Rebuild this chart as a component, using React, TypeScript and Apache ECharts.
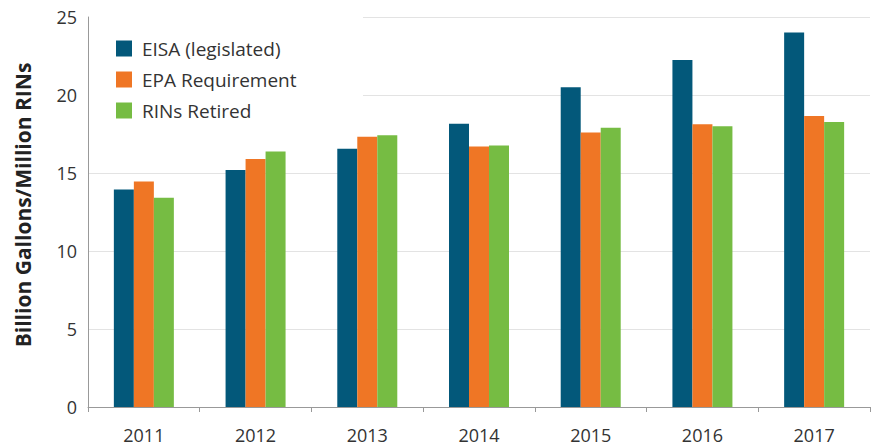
import React, { useEffect, useRef } from "react";
import * as echarts from "echarts";

const years = ["2011", "2012", "2013", "2014", "2015", "2016", "2017"];
const eisa = [13.95, 15.2, 16.55, 18.15, 20.5, 22.25, 24.0];
const epaRequirement = [14.45, 15.9, 17.33, 16.7, 17.6, 18.13, 18.65];
const rinsRetired = [13.42, 16.38, 17.42, 16.77, 17.9, 17.99, 18.27];
const yTicks = [0, 5, 10, 15, 20, 25];

const FONT = "'Open Sans', sans-serif";

export default function App() {
  const ref = useRef<HTMLDivElement>(null);
  useEffect(() => {
    if (!ref.current) return;
    const chart = echarts.init(ref.current, null, { renderer: "svg" });
    chart.setOption({
      animation: false,
      textStyle: { fontFamily: FONT },
      grid: { left: 88, right: 3, top: 17, bottom: 39, containLabel: false },
      graphic: [
        {
          type: "rect",
          left: 89,
          top: 12,
          z: 1,
          shape: { width: 274, height: 118 },
          style: { fill: "#ffffff" },
        },
      ],
      legend: {
        left: 111,
        top: 34,
        orient: "vertical",
        itemWidth: 16,
        itemHeight: 16,
        itemGap: 12,
        icon: "rect",
        z: 5,
        textStyle: { fontSize: 19, color: "#333", fontFamily: FONT, padding: [0, 0, 0, 5] },
        data: ["EISA (legislated)", "EPA Requirement", "RINs Retired"],
      },
      xAxis: {
        type: "category",
        data: years,
        axisLine: { lineStyle: { color: "#999", width: 1 } },
        axisTick: { show: true, length: 5, lineStyle: { color: "#999" } },
        axisLabel: { fontSize: 18, color: "#333", margin: 19, fontFamily: FONT },
      },
      yAxis: {
        type: "value",
        min: yTicks[0],
        max: yTicks[yTicks.length - 1],
        interval: 5,
        name: "Billion Gallons/Million RINs",
        nameLocation: "middle",
        nameGap: 55,
        nameTextStyle: {
          fontSize: 21,
          fontWeight: "bold",
          color: "#222",
          fontFamily: FONT,
          padding: [0, 0, 0, 14],
        },
        axisLine: { show: true, lineStyle: { color: "#999", width: 1 } },
        axisTick: { show: false },
        axisLabel: { fontSize: 18, color: "#333", margin: 11, fontFamily: FONT },
        splitLine: { lineStyle: { color: "#e3e3e3", width: 1 } },
      },
      series: [
        {
          name: "EISA (legislated)",
          type: "bar",
          data: eisa,
          barWidth: 20,
          barGap: "0%",
          itemStyle: { color: "#03587a" },
        },
        {
          name: "EPA Requirement",
          type: "bar",
          data: epaRequirement,
          barWidth: 20,
          barGap: "0%",
          itemStyle: { color: "#ef7625" },
        },
        {
          name: "RINs Retired",
          type: "bar",
          data: rinsRetired,
          barWidth: 20,
          barGap: "0%",
          itemStyle: { color: "#76bc43" },
        },
      ],
    });
    return () => chart.dispose();
  }, []);
  return <div ref={ref} style={{ width: 873, height: 446, position: "absolute", left: 0, top: 0 }} />;
}
